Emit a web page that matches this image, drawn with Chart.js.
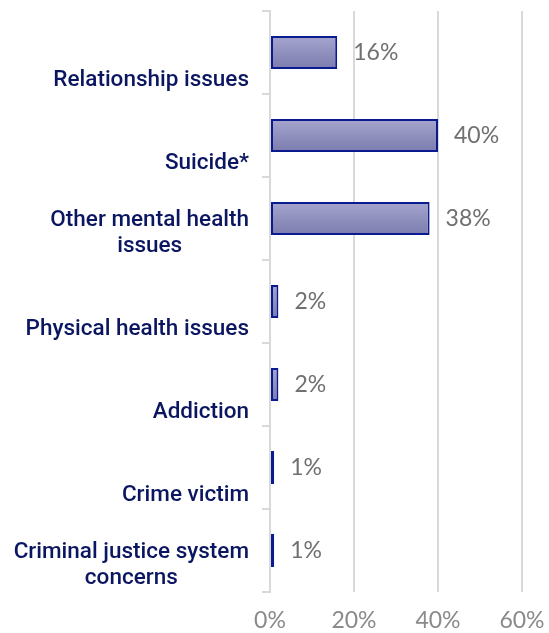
<!DOCTYPE html>
<html>
<head>
<meta charset="utf-8">
<script src="https://cdn.jsdelivr.net/npm/chart.js@4"></script>
<style>
    html, body { margin: 0; padding: 0; background: #fff; }
    #wrap { width: 549px; height: 633px; }
</style>
</head>
<body>
<div id="wrap"><canvas id="issuesChart"></canvas></div>
<script>
// Category labels, one entry per bar (each entry is a list of text lines)
const categories = [
    ['Relationship issues'],
    ['Suicide*'],
    ['Other mental health', 'issues'],
    ['Physical health issues'],
    ['Addiction'],
    ['Crime victim'],
    ['Criminal justice system', 'concerns']
];
// Share of cases, in percent
const shares = [16, 40, 38, 2, 2, 1, 1];
// X axis ticks
const xTicks = [0, 20, 40, 60];

const navy = '#0b1660';
const gridGray = '#d9d9d9';
const labelFont = '500 22.5px Roboto, sans-serif';
const numberFont = '23px Lato, sans-serif';

// Draws the category names (lines centred, block right aligned) and the value labels
const labelPlugin = {
    id: 'labelPlugin',
    afterDraw(chart) {
        const ctx = chart.ctx;
        const yScale = chart.scales.y;
        const meta = chart.getDatasetMeta(0);
        ctx.save();

        // category names
        ctx.font = labelFont;
        ctx.fillStyle = navy;
        ctx.textAlign = 'center';
        ctx.textBaseline = 'middle';
        categories.forEach((lines, i) => {
            const y = yScale.getPixelForValue(i);
            const widest = Math.max(...lines.map(l => ctx.measureText(l).width));
            const cx = 249 - widest / 2;
            lines.forEach((line, j) => {
                const ly = y + 28 - (lines.length - 1 - j) * 26;
                ctx.fillText(line, cx, ly);
            });
        });

        // value labels
        ctx.font = numberFont;
        ctx.fillStyle = '#707070';
        ctx.textAlign = 'left';
        meta.data.forEach((bar, i) => {
            ctx.fillText(shares[i] + '%', bar.x + 16, bar.y);
        });
        ctx.restore();
    }
};

// Vertical gradient for each bar
function barFill(context) {
    const chart = context.chart;
    if (!chart.chartArea) return '#9090bf';
    const y = chart.scales.y.getPixelForValue(context.dataIndex);
    const g = chart.ctx.createLinearGradient(0, y - 17, 0, y + 17);
    g.addColorStop(0, '#a6a6cf');
    g.addColorStop(1, '#7b7bae');
    return g;
}

const ctx = document.getElementById('issuesChart').getContext('2d');
const issuesChart = new Chart(ctx, {
    type: 'bar',
    data: {
        labels: categories.map(c => c.join(' ')),
        datasets: [{
            data: shares,
            backgroundColor: barFill,
            borderColor: '#0a1a8f',
            borderWidth: 2,
            borderSkipped: false,
            barPercentage: 0.4,
            categoryPercentage: 1
        }]
    },
    options: {
        indexAxis: 'y',
        responsive: true,
        maintainAspectRatio: false,
        animation: false,
        layout: {
            padding: { top: 11, right: 27, bottom: 0, left: 0 }
        },
        plugins: {
            legend: { display: false },
            tooltip: { enabled: false }
        },
        scales: {
            x: {
                min: xTicks[0],
                max: xTicks[xTicks.length - 1],
                afterBuildTicks: scale => {
                    scale.ticks = xTicks.map(v => ({ value: v }));
                },
                afterFit: scale => {
                    scale.height = 41;
                    scale.paddingLeft = 0;
                    scale.paddingRight = 0;
                },
                border: { display: false },
                grid: {
                    color: gridGray,
                    lineWidth: 2,
                    drawTicks: false
                },
                ticks: {
                    padding: 15,
                    color: '#8a8a8a',
                    font: { family: 'Lato, sans-serif', size: 23 },
                    callback: v => v + '%'
                }
            },
            y: {
                afterFit: scale => { scale.width = 270; },
                border: { display: true, color: gridGray, width: 2 },
                grid: {
                    drawOnChartArea: false,
                    drawTicks: true,
                    tickLength: 8,
                    color: gridGray,
                    lineWidth: 2
                },
                ticks: { display: false }
            }
        }
    },
    plugins: [labelPlugin]
});
</script>
</body>
</html>
